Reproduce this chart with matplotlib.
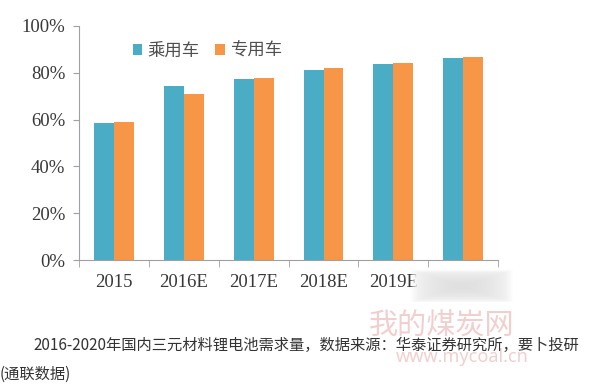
import matplotlib
matplotlib.use("Agg")
import matplotlib.pyplot as plt
import numpy as np
from matplotlib.ticker import FuncFormatter

categories = ["2015", "2016E", "2017E", "2018E", "2019E", "2020E"]
passenger = [58.4, 74.2, 77.4, 81.1, 83.6, 86.2]
special = [59.1, 70.8, 77.9, 81.9, 84.2, 86.8]
series_names = ["乘用车", "专用车"]
yticks = [0, 20, 40, 60, 80, 100]
caption1 = "2016-2020年国内三元材料锂电池需求量，数据来源：华泰证券研究所，要卜投研"
caption2 = "(通联数据)"

cjk = ["Noto Sans CJK SC", "DejaVu Sans"]

fig = plt.figure(figsize=(6, 3.87), dpi=100)
ax = fig.add_axes([0.132, 0.328, 0.698, 0.605])

x = np.arange(len(categories))
w = 0.285
ax.bar(x - w / 2, passenger, width=w, color="#4BACC6", label=series_names[0])
ax.bar(x + w / 2, special, width=w, color="#F79646", label=series_names[1])

ax.set_xlim(-0.5, len(categories) - 0.5)
ax.set_ylim(0, 100)
ax.set_yticks(yticks)
ax.yaxis.set_major_formatter(FuncFormatter(lambda v, p: f"{int(v)}%"))
ax.set_xticks(x)
ax.set_xticklabels(categories)
ax.set_xticks(np.arange(-0.5, len(categories)), minor=True)
ax.tick_params(axis="x", which="major", length=0, pad=10)
ax.tick_params(axis="x", which="minor", length=5, color="#a0a0a0", direction="out")
ax.tick_params(axis="y", length=4, color="#a0a0a0", pad=6)
for lab in ax.get_xticklabels() + ax.get_yticklabels():
    lab.set_family("Liberation Serif")
    lab.set_fontsize(13.5)
    lab.set_color("#383838")

for s in ["top", "right"]:
    ax.spines[s].set_visible(False)
ax.spines["left"].set_color("#a0a0a0")
ax.spines["bottom"].set_color("#a0a0a0")

leg = ax.legend(loc="upper left", bbox_to_anchor=(0.09, 1.0), ncol=2, frameon=False,
                prop={"family": cjk, "size": 12.5}, handlelength=0.55, handleheight=0.55,
                handletextpad=0.3, columnspacing=0.9)
for t in leg.get_texts():
    t.set_color("#505050")

# blurred patch over the last label
yy, xx = np.mgrid[0:30, 0:100]
d = np.maximum(np.abs(xx - 50) / 50, np.abs(yy - 15) / 15)
a = np.clip((1 - d ** 6) * 1.6, 0, 1)
shade = 0.97 - 0.09 * np.clip(1 - d ** 2, 0, 1)
grad = np.zeros((30, 100, 4))
grad[..., 0] = shade
grad[..., 1] = shade
grad[..., 2] = shade
grad[..., 3] = a
pax = fig.add_axes([0.683, 0.22, 0.17, 0.085])
pax.imshow(grad, aspect="auto", interpolation="bicubic")
pax.axis("off")

# watermark
fig.text(0.615, 0.135, "我的煤炭网", family=cjk, fontsize=21, color="#f1cfcf", zorder=0)
fig.text(0.66, 0.065, "www.mycoal.cn", family=["Noto Sans", "DejaVu Sans"], fontsize=13,
         color="#f1cfcf", zorder=0)

fig.text(0.055, 0.108, caption1, family=cjk, fontsize=11, color="#333333", va="center")
fig.text(0.0, 0.032, caption2, family=cjk, fontsize=11, color="#333333", va="center")

fig.savefig("out.png", dpi=100)
